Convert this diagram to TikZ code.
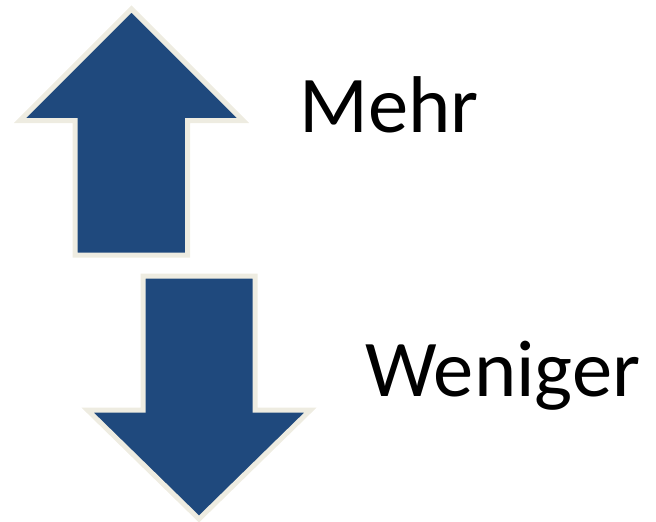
\documentclass[tikz,border=0pt]{standalone}
\usepackage{fontspec}
\setmainfont{Carlito}
\definecolor{arrowblue}{HTML}{1F497D}
\definecolor{arrowrim}{HTML}{EEECE1}
\tikzset{
  bigarrow/.style={fill=arrowblue, draw=arrowrim, line width=5pt, line join=miter, miter limit=10},
  label/.style={inner sep=0pt, anchor=base west, font=\fontsize{80.5}{83}\selectfont}
}
\begin{document}
\begin{tikzpicture}[x=1pt,y=-1pt]
\useasboundingbox (0,0) rectangle (656,522);
% up arrow
\draw[bigarrow] (131.5,9) -- (243,120.5) -- (187.5,120.5) -- (187.5,255) -- (75.2,255) -- (75.2,120.5) -- (20,120.5) -- cycle;
% down arrow
\draw[bigarrow] (143,276) -- (255,276) -- (255,410) -- (310.5,410) -- (199,519) -- (87.5,410) -- (143,410) -- cycle;
\node[label] (mehr) at (299,132) {Mehr};
\node[label] (weniger) at (365,396) {Weniger};
\end{tikzpicture}
\end{document}
